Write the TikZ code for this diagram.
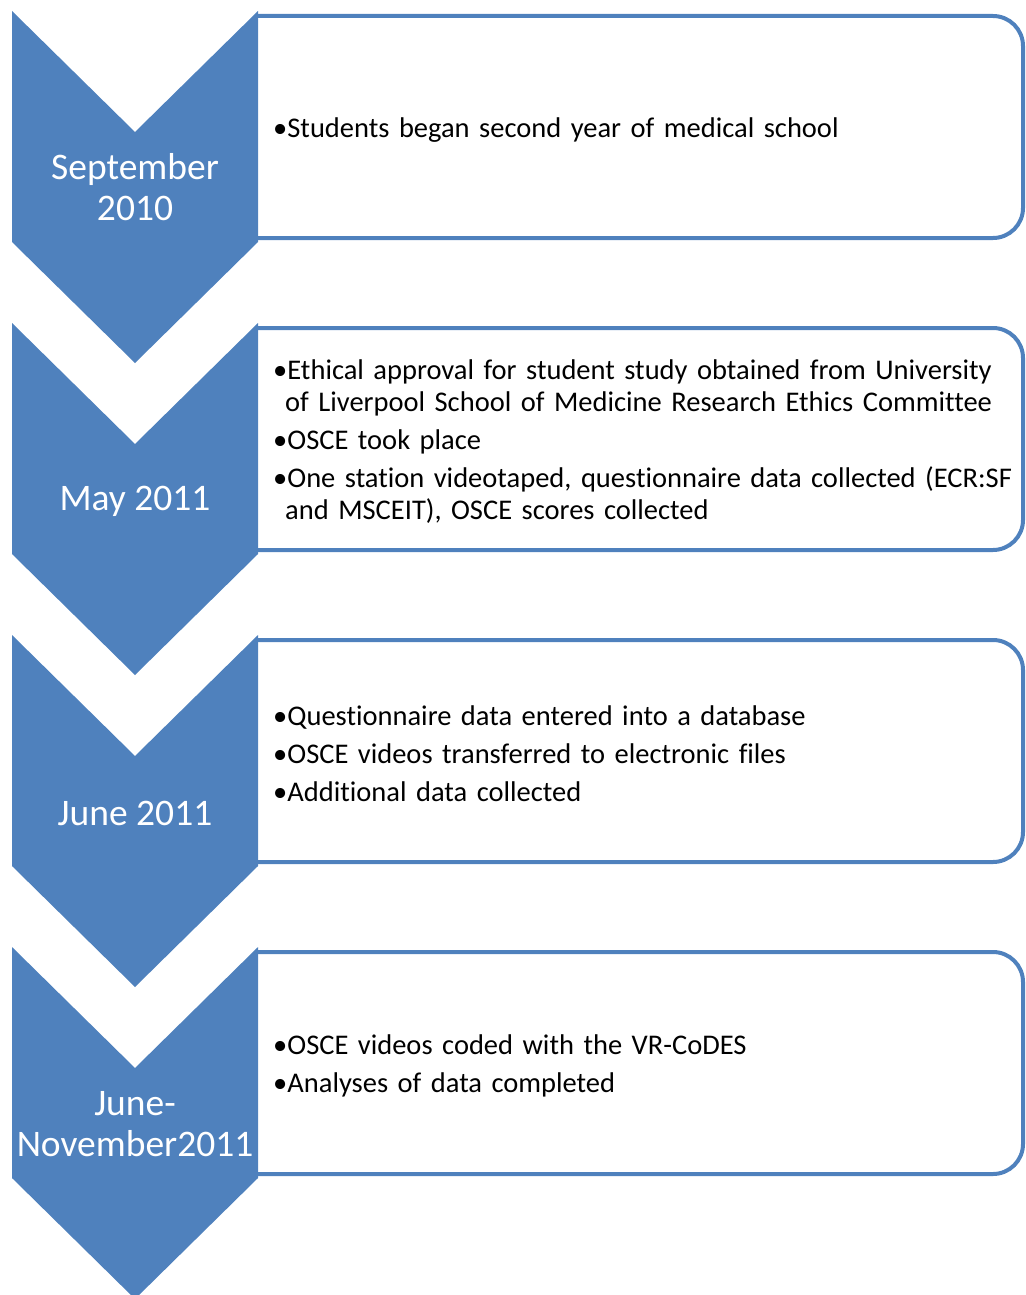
\documentclass[tikz,border=0pt]{standalone}
\usepackage{fontspec}
\setmainfont{Carlito}[Ligatures=NoCommon]
\definecolor{accent}{HTML}{4F81BD}
% one bullet line with a hanging indent for wrapped lines
\newcommand\bul[1]{\hangindent=12pt\hangafter=1 •#1\par}
% body font of the event lists, no hyphenation
\newcommand\evfont{\fontsize{28.5}{32}\selectfont\setlength{\parskip}{6pt}%
  \hyphenpenalty=10000 \exhyphenpenalty=10000\relax}
\begin{document}
\begin{tikzpicture}[x=1pt,y=-1pt,
  chev/.style={fill=accent, draw=none},
  panel/.style={draw=accent, line width=4pt},
  datelabel/.style={text=white, align=center, inner sep=0pt,
    font=\fontsize{37.5}{41}\selectfont},
  events/.style={anchor=west, inner sep=0pt, text width=746pt, align=left,
    font=\evfont}]
\useasboundingbox (0,0) rectangle (1025,1295);

% panels first, chevrons on top hide their left ends
\foreach \t in {11,323,635,947}{
  \draw[panel] (256,\t+5) [rounded corners=30pt] -- (1023,\t+5) -- (1023,\t+227) -- (256,\t+227);
  \fill[chev] (12,\t) -- (135,\t+121) -- (258,\t) -- (258,\t+231)
     -- (135,\t+352) -- (12,\t+231) -- cycle;
}

\node[datelabel] (d1) at (135,187) {September\\2010};
\node[datelabel] (d2) at (135,501) {May 2011};
\node[datelabel] (d3) at (135,813) {June 2011};
\node[datelabel] (d4) at (135,1124) {June-\\November2011};

\node[events] (e1) at (273,130) {\bul{Students began second year of medical school}};
\node[events] (e2) at (273,442) {%
  \bul{Ethical approval for student study obtained from University of Liverpool School of Medicine Research Ethics Committee}
  \bul{OSCE took place}
  \bul{One station videotaped, questionnaire data collected (ECR:SF and MSCEIT), OSCE scores collected}};
\node[events] (e3) at (273,754) {%
  \bul{Questionnaire data entered into a database}
  \bul{OSCE videos transferred to electronic files}
  \bul{Additional data collected}};
\node[events] (e4) at (273,1066) {%
  \bul{OSCE videos coded with the VR-CoDES}
  \bul{Analyses of data completed}};
\end{tikzpicture}
\end{document}
